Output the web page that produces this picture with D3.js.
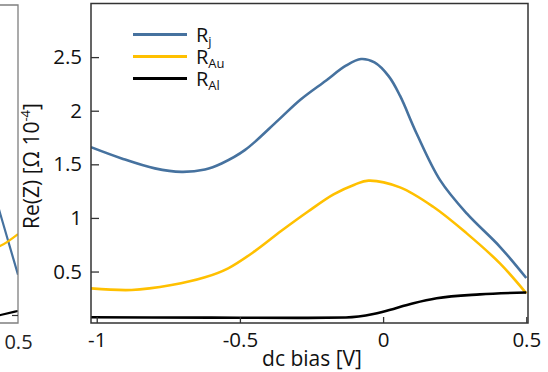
<!DOCTYPE html>
<html><head><meta charset="utf-8">
<script src="https://cdn.jsdelivr.net/npm/d3@7"></script>
<style>
html,body{margin:0;padding:0;background:#fff;}
svg{display:block;font-family:"Open Sans",sans-serif;}
</style></head>
<body>
<svg id="chart" width="548" height="372"></svg>
<script>
// ---- data (main panel) ----
const xRj  = [-1.02,-0.913,-0.797,-0.704,-0.622,-0.564,-0.483,-0.366,-0.29,-0.2,-0.13,-0.077,-0.03,0.02,0.059,0.117,0.199,0.292,0.408,0.5];
const yRj  = [1.66,1.555,1.462,1.43,1.452,1.508,1.632,1.912,2.1,2.28,2.42,2.482,2.45,2.32,2.14,1.788,1.353,1.042,0.731,0.44];
const xRAu = [-1.02,-0.878,-0.739,-0.622,-0.541,-0.448,-0.355,-0.262,-0.173,-0.1,-0.051,0.059,0.175,0.292,0.408,0.5];
const yRAu = [0.343,0.328,0.374,0.446,0.53,0.69,0.88,1.06,1.22,1.31,1.348,1.285,1.104,0.856,0.576,0.297];
const xRAl = [-1.02,-0.6,-0.3,-0.13,-0.034,0,0.106,0.187,0.338,0.5];
const yRAl = [0.073,0.07,0.068,0.072,0.104,0.125,0.204,0.25,0.287,0.305];
// ---- data (partial left panel, only its right edge is visible) ----
const leftX   = [0.40,0.44,0.5];
const leftRj  = [1.40,1.03,0.47];
const leftRAu = [0.70,0.74,0.85];
const leftRAl = [0.07,0.095,0.132];
// ---- ticks / labels ----
const xTicks = [-1,-0.5,0,0.5];
const xTickLabels = ["-1","-0.5","0","0.5"];
const yTicks = [0.5,1,1.5,2,2.5];
const yTickLabels = ["0.5","1","1.5","2","2.5"];
const seriesNames = [["R","j"],["R","Au"],["R","Al"]];
const seriesColors = ["#46729f","#ffc000","#000000"];

const svg = d3.select("#chart");
const L = 91, R = 528, T = 3.5, B = 323;
const x = d3.scaleLinear().domain([-1.02,0.506]).range([L,R]);
const y = d3.scaleLinear().domain([0.02,3.0]).range([B,T]);
const xl = d3.scaleLinear().domain([-1.0,0.5]).range([18-437,18]);

// left partial panel
svg.append("clipPath").attr("id","clipL").append("rect").attr("x",0).attr("y",5).attr("width",18).attr("height",B-5);
const gl = svg.append("g").attr("clip-path","url(#clipL)");
const leftSeries = [leftRj,leftRAu,leftRAl];
leftSeries.forEach((vals,i)=>{
  gl.append("path").datum(vals.map((v,j)=>[leftX[j],v]))
    .attr("fill","none").attr("stroke",seriesColors[i]).attr("stroke-width",2.2)
    .attr("d",d3.line().x(d=>xl(d[0])).y(d=>y(d[1])).curve(d3.curveMonotoneX));
});
svg.append("path").attr("d",`M0,5H${xl(0.5)}V${B}H0`).attr("fill","none").attr("stroke","#7f7f7f").attr("stroke-width",1.3);
svg.append("g").attr("transform",`translate(0,${B})`)
  .call(d3.axisBottom(xl).tickValues([0.5]).tickFormat(()=>"0.5").tickSize(0).tickPadding(12))
  .call(g=>g.select(".domain").remove())
  .call(g=>g.selectAll("text").attr("font-size",20).attr("font-family","Open Sans").attr("fill","#222"));
svg.append("line").attr("x1",xl(0.5)-6).attr("x2",xl(0.5)).attr("y1",y(0.09)).attr("y2",y(0.09)).attr("stroke","#333").attr("stroke-width",1.2);

// main panel
svg.append("clipPath").attr("id","clipM").append("rect").attr("x",L).attr("y",T).attr("width",R-L).attr("height",B-T);
const gm = svg.append("g").attr("clip-path","url(#clipM)");
const mainSeries = [[xRj,yRj],[xRAu,yRAu],[xRAl,yRAl]];
const xAxis = d3.axisBottom(x).tickValues(xTicks).tickFormat((d,i)=>xTickLabels[i]).tickSizeInner(-6).tickSizeOuter(0).tickPadding(10);
svg.append("g").attr("transform",`translate(0,${B})`).call(xAxis)
  .call(g=>g.select(".domain").remove())
  .call(g=>g.selectAll("line").attr("stroke","#333").attr("stroke-width",1.3))
  .call(g=>g.selectAll("text").attr("font-size",20.5).attr("font-family","Open Sans").attr("fill","#111").attr("dy","0.66em"));
const yAxis = d3.axisLeft(y).tickValues(yTicks).tickFormat((d,i)=>yTickLabels[i]).tickSizeInner(-8).tickSizeOuter(0).tickPadding(9);
svg.append("g").attr("transform",`translate(${L},0)`).call(yAxis)
  .call(g=>g.select(".domain").remove())
  .call(g=>g.selectAll("line").attr("stroke","#333").attr("stroke-width",1.3))
  .call(g=>g.selectAll("text").attr("font-size",20.5).attr("font-family","Open Sans").attr("fill","#111"));

const curves = [d3.curveCatmullRom.alpha(0.5), d3.curveCatmullRom.alpha(0.5), d3.curveMonotoneX];
mainSeries.forEach((s,i)=>{
  gm.append("path").datum(s[0].map((v,j)=>[v,s[1][j]]))
    .attr("fill","none").attr("stroke",seriesColors[i]).attr("stroke-width",2.6)
    .attr("stroke-linejoin","round")
    .attr("d",d3.line().x(d=>x(d[0])).y(d=>y(d[1])).curve(curves[i]));
});
svg.append("rect").attr("x",L).attr("y",T).attr("width",R-L).attr("height",B-T)
  .attr("fill","none").attr("stroke","#333").attr("stroke-width",1.5);

// legend
const lg = svg.append("g");
seriesNames.forEach((n,i)=>{
  const ly = 34.5 + i*22;
  lg.append("line").attr("x1",133).attr("x2",187).attr("y1",ly).attr("y2",ly)
    .attr("stroke",seriesColors[i]).attr("stroke-width",3);
  const t = lg.append("text").attr("x",196).attr("y",ly+7).attr("font-size",20).attr("fill","#111");
  t.append("tspan").text(n[0]);
  t.append("tspan").attr("font-size",13).attr("dy",4).text(n[1]);
});

// axis labels
svg.append("text").attr("x",312).attr("y",366).attr("text-anchor","middle")
  .attr("font-size",21).attr("fill","#111").text("dc bias [V]");
const yl = svg.append("text").attr("transform","translate(39,166) rotate(-90)")
  .attr("text-anchor","middle").attr("font-size",21).attr("fill","#111");
yl.append("tspan").text("Re(Z) [Ω 10");
yl.append("tspan").attr("font-size",13).attr("dy",-9).text("-4");
yl.append("tspan").attr("dy",9).text("]");
</script>
</body></html>
